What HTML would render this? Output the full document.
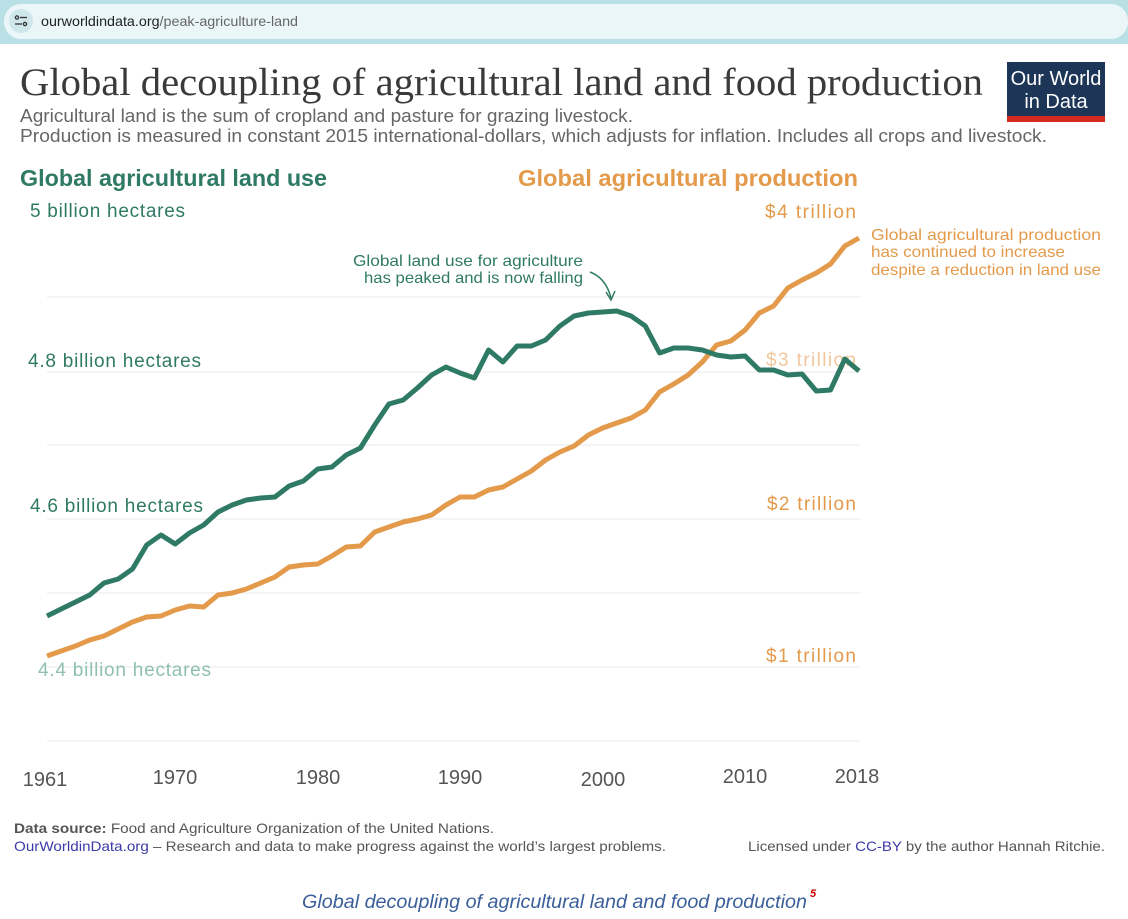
<!DOCTYPE html>
<html><head><meta charset="utf-8"><style>
body{margin:0;background:#fff;width:1128px;height:914px;overflow:hidden;font-family:"Liberation Sans",sans-serif}
</style></head><body>
<svg width="1128" height="914" xmlns="http://www.w3.org/2000/svg" font-family="Liberation Sans, sans-serif">
<rect x="0" y="0" width="1128" height="44" fill="#b9e0e4"/>
<rect x="4" y="4" width="1124" height="35" rx="17" fill="#eaf6f8"/>
<circle cx="21" cy="21" r="12" fill="#cfe6ea"/>
<g stroke="#333" stroke-width="1.3" fill="none"><circle cx="17" cy="17.5" r="1.6"/><line x1="20" y1="17.5" x2="27" y2="17.5"/><line x1="15" y1="24" x2="22" y2="24"/><circle cx="25" cy="24" r="1.6"/></g>
<text x="41" y="26" font-size="14" fill="#222" textLength="257" lengthAdjust="spacingAndGlyphs">ourworldindata.org<tspan fill="#666">/peak-agriculture-land</tspan></text>

<text x="20" y="95" font-family="Liberation Serif, serif" font-size="39" fill="#3a3a3a" textLength="963" lengthAdjust="spacingAndGlyphs">Global decoupling of agricultural land and food production</text>
<rect x="1007" y="62" width="98" height="60" fill="#1d3557"/>
<rect x="1007" y="116" width="98" height="6" fill="#d42b21"/>
<text x="1056" y="85" font-size="20" fill="#fff" text-anchor="middle">Our World</text>
<text x="1056" y="108" font-size="20" fill="#fff" text-anchor="middle">in Data</text>
<text x="20" y="122" font-size="18" fill="#666" textLength="613" lengthAdjust="spacingAndGlyphs">Agricultural land is the sum of cropland and pasture for grazing livestock.</text>
<text x="20" y="142" font-size="18" fill="#666" textLength="1027" lengthAdjust="spacingAndGlyphs">Production is measured in constant 2015 international-dollars, which adjusts for inflation. Includes all crops and livestock.</text>

<text x="20" y="186" font-size="23" font-weight="bold" fill="#2f7a64" textLength="307" lengthAdjust="spacingAndGlyphs">Global agricultural land use</text>
<text x="518" y="186" font-size="23" font-weight="bold" fill="#e39a4b" textLength="340" lengthAdjust="spacingAndGlyphs">Global agricultural production</text>

<g stroke="#e8e8e8" stroke-width="1">
<line x1="47" y1="297" x2="860" y2="297"/><line x1="47" y1="372" x2="860" y2="372"/><line x1="47" y1="445" x2="860" y2="445"/><line x1="47" y1="519" x2="860" y2="519"/><line x1="47" y1="593" x2="860" y2="593"/><line x1="47" y1="667" x2="860" y2="667"/><line x1="47" y1="741" x2="860" y2="741"/>
</g>

<g font-size="19" lengthAdjust="spacingAndGlyphs">
<text x="30" y="217" fill="#2f7a64" textLength="155">5 billion hectares</text>
<text x="28" y="367" fill="#2f7a64" textLength="173">4.8 billion hectares</text>
<text x="30" y="512" fill="#2f7a64" textLength="173">4.6 billion hectares</text>
<text x="38" y="676" fill="#8fc0b0" textLength="173">4.4 billion hectares</text>
<text x="765" y="218" fill="#e39a4b" textLength="91">$4 trillion</text>
<text x="766" y="366" fill="#f2c79c" textLength="90">$3 trillion</text>
<text x="767" y="510" fill="#e39a4b" textLength="89">$2 trillion</text>
<text x="766" y="662" fill="#e39a4b" textLength="90">$1 trillion</text>
</g>

<text x="353" y="266" font-size="16" fill="#2f7a64" textLength="230" lengthAdjust="spacingAndGlyphs">Global land use for agriculture</text>
<text x="364" y="283" font-size="16" fill="#2f7a64" textLength="219" lengthAdjust="spacingAndGlyphs">has peaked and is now falling</text>
<path d="M590 272 Q606 278 611 298" stroke="#2f7a64" stroke-width="1.5" fill="none"/>
<path d="M606 292 L611 300 L615 291" stroke="#2f7a64" stroke-width="1.5" fill="none"/>

<text x="871" y="240" font-size="16" fill="#e39a4b" textLength="230" lengthAdjust="spacingAndGlyphs">Global agricultural production</text>
<text x="871" y="257" font-size="16" fill="#e39a4b" textLength="194" lengthAdjust="spacingAndGlyphs">has continued to increase</text>
<text x="871" y="275" font-size="16" fill="#e39a4b" textLength="230" lengthAdjust="spacingAndGlyphs">despite a reduction in land use</text>

<polyline fill="none" stroke="#e39a4b" stroke-width="5" stroke-linejoin="round" points="47,656 61.2,651 75.5,646 89.7,640 104,636 118.2,629 132.5,622 146.7,617 161,616 175.2,610 189.5,606 203.7,607 218,595 232.2,593 246.4,589 260.7,583 274.9,577 289.2,567 303.4,565 317.7,564 331.9,556 346.2,547 360.4,546 374.7,532 388.9,527 403.2,522 417.4,519 431.6,515 445.9,505 460.1,497 474.4,497 488.6,490 502.9,487 517.1,479 531.4,471 545.6,460 559.9,452 574.1,446 588.4,435 602.6,428 616.8,423 631.1,418 645.3,410 659.6,392 673.8,384 688.1,375 702.3,362 716.6,345 730.8,341 745.1,330 759.3,313 773.6,306 787.8,288 802,280 816.3,273 830.5,264 844.8,246 859,238"/>
<polyline fill="none" stroke="#2f7a64" stroke-width="5" stroke-linejoin="round" points="47,616 61.2,609 75.5,602 89.7,595 104,583 118.2,579 132.5,569 146.7,545 161,535 175.2,544 189.5,533 203.7,525 218,512 232.2,505 246.4,500 260.7,498 274.9,497 289.2,486 303.4,481 317.7,469 331.9,467 346.2,455 360.4,448 374.7,425 388.9,404 403.2,400 417.4,388 431.6,375 445.9,367 460.1,373 474.4,378 488.6,350 502.9,362 517.1,346 531.4,346 545.6,340 559.9,326 574.1,316 588.4,313 602.6,312 616.8,311 631.1,316 645.3,326 659.6,353 673.8,348 688.1,348 702.3,350 716.6,355 730.8,357 745.1,356 759.3,370 773.6,370 787.8,375 802,374 816.3,391 830.5,390 844.8,359 859,371"/>

<g font-size="20" fill="#555" text-anchor="middle">
<text x="45" y="786">1961</text><text x="175" y="784">1970</text><text x="318" y="784">1980</text><text x="460" y="784">1990</text><text x="603" y="786">2000</text><text x="745" y="783">2010</text><text x="857" y="783">2018</text>
</g>

<text x="14" y="833" font-size="14" fill="#555" textLength="480" lengthAdjust="spacingAndGlyphs"><tspan font-weight="bold">Data source:</tspan> Food and Agriculture Organization of the United Nations.</text>
<text x="14" y="851" font-size="14" fill="#555" textLength="652" lengthAdjust="spacingAndGlyphs"><tspan fill="#3d3aa8">OurWorldinData.org</tspan> – Research and data to make progress against the world’s largest problems.</text>
<text x="748" y="851" font-size="14" fill="#555" textLength="357" lengthAdjust="spacingAndGlyphs">Licensed under <tspan fill="#3d3aa8">CC-BY</tspan> by the author Hannah Ritchie.</text>

<text x="302" y="908" font-size="19" font-style="italic" fill="#3a5f9a" textLength="505" lengthAdjust="spacingAndGlyphs">Global decoupling of agricultural land and food production</text>
<text x="810" y="897" font-size="11" font-style="italic" font-weight="bold" fill="#c00">5</text>
</svg>
</body></html>
